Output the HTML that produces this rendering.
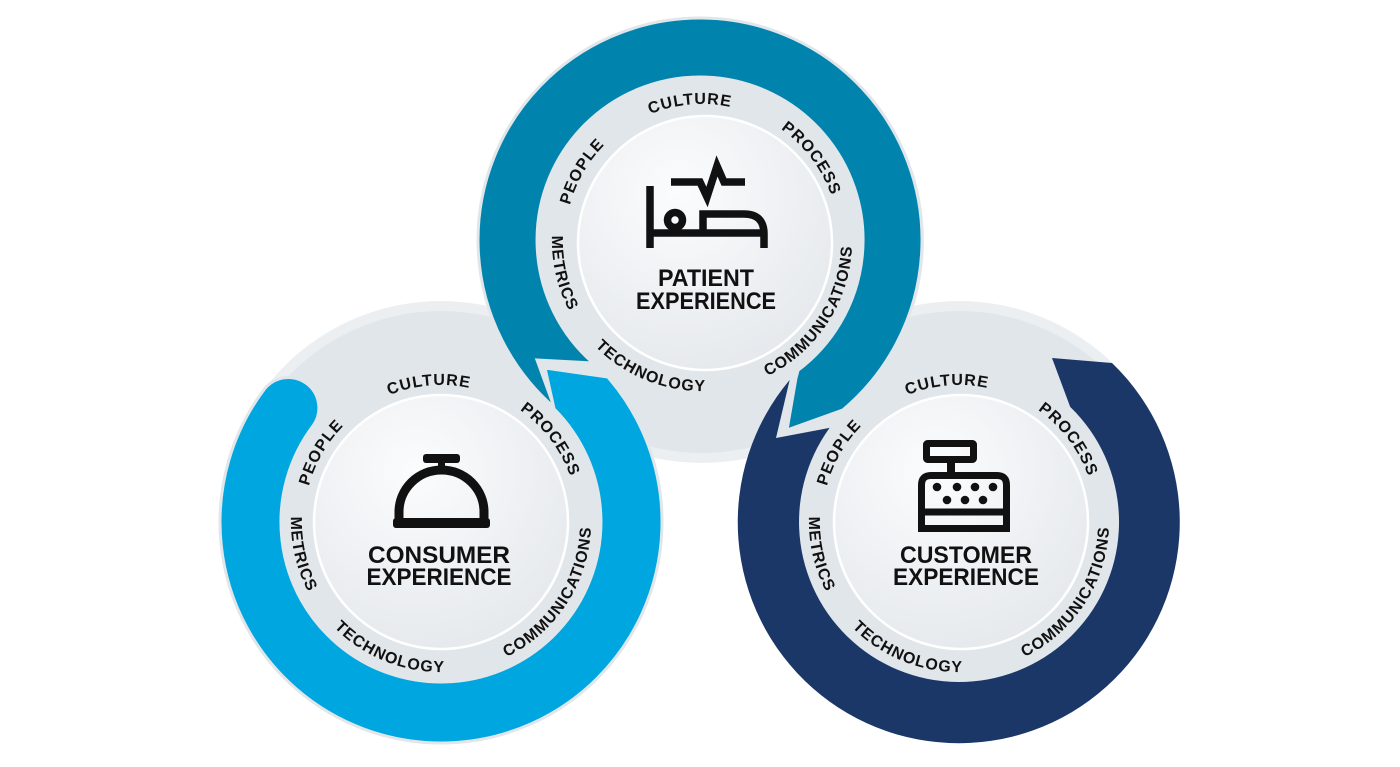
<!DOCTYPE html>
<html><head><meta charset="utf-8"><style>
html,body{margin:0;padding:0;background:#fff;width:1400px;height:767px;overflow:hidden}
svg{display:block}
.lb{font-family:"Liberation Sans",sans-serif;font-weight:bold;font-size:16px;letter-spacing:1px;fill:#111}
.tt{font-family:"Liberation Sans",sans-serif;font-weight:bold;font-size:24px;fill:#111}
</style></head><body>
<svg width="1400" height="767" viewBox="0 0 1400 767" xmlns="http://www.w3.org/2000/svg">
<defs>
<radialGradient id="wg" cx="0.4" cy="0.3" r="0.8">
<stop offset="0" stop-color="#fbfcfd"/><stop offset="1" stop-color="#e3e7eb"/>
</radialGradient>
<path id="pCul" d="M-124.2,-57.9 A137,137 0 0 1 112.2,-78.6"/>
<path id="pPro" d="M-16.7,-136 A137,137 0 0 1 126.1,53.5"/>
<path id="pPeo" d="M-118.6,68.5 A137,137 0 0 1 0,-137"/>
<path id="pCom" d="M-33.7,146.2 A150,150 0 0 0 119.8,-90.3"/>
<path id="pTec" d="M-149.9,-5.2 A150,150 0 0 0 111.5,100.4"/>
<path id="pMet" d="M-81.7,-125.8 A150,150 0 0 0 -18.3,148.9"/>
<g id="labels">
<text class="lb"><textPath href="#pCul" startOffset="50%" text-anchor="middle">CULTURE</textPath></text>
<text class="lb"><textPath href="#pPro" startOffset="50%" text-anchor="middle">PROCESS</textPath></text>
<text class="lb"><textPath href="#pPeo" startOffset="50%" text-anchor="middle">PEOPLE</textPath></text>
<text class="lb"><textPath href="#pCom" startOffset="50%" text-anchor="middle">COMMUNICATIONS</textPath></text>
<text class="lb"><textPath href="#pTec" startOffset="50%" text-anchor="middle">TECHNOLOGY</textPath></text>
<text class="lb"><textPath href="#pMet" startOffset="50%" text-anchor="middle">METRICS</textPath></text>
</g>
</defs>

<g fill="#eceff2">
<circle cx="702" cy="241" r="222"/>
<circle cx="441" cy="522" r="221"/>
<circle cx="959" cy="522" r="221"/>
</g>
<g fill="#e1e6ea">
<circle cx="702" cy="241" r="212"/>
<circle cx="441" cy="522" r="211"/>
<circle cx="959" cy="522" r="211"/>
</g>

<path d="M1112,363 A221,221 0 1 1 789.7,379.9 L776,438 L829.6,427.9 A160,160 0 1 0 1070.2,406.9 L1052,358 Z" fill="#1b3768"/>
<path d="M554.3,407.5 A222,222 0 1 1 842.7,410.1 L787,430 L796,378 L798.1,370.2 A163,163 0 1 0 593.1,363 L537,360 Z" fill="#0084ae" stroke="#e1e6ea" stroke-width="3" stroke-linejoin="miter"/>
<path d="M264.5,389 A221,221 0 1 0 607.8,377 L545,368 L554.1,408.9 A160,160 0 1 1 313.2,425.7 A30.5,30.5 0 0 0 264.5,389 Z" fill="#00a6df" stroke="#e1e6ea" stroke-width="3" stroke-linejoin="miter"/>

<g fill="url(#wg)" stroke="#ffffff" stroke-width="2.5">
<circle cx="705" cy="243" r="127"/>
<circle cx="441" cy="522" r="127"/>
<circle cx="961" cy="522" r="127"/>
</g>

<use href="#labels" transform="translate(702,241)"/>
<use href="#labels" transform="translate(441,522)"/>
<use href="#labels" transform="translate(959,522)"/>

<g fill="none" stroke="#111" stroke-width="7.5" stroke-linecap="butt">
<line x1="650" y1="186" x2="650" y2="248"/>
<circle cx="675" cy="220" r="7.5"/>
<path d="M650,233 H764"/>
<path d="M703,233 V214 H744 Q764,214 764,234 V248"/>
<path d="M671,182 H700 L707,197 L717,166 L724,182 H745" stroke-linejoin="miter"/>
</g>
<text class="tt" x="706" y="286" text-anchor="middle" textLength="96" lengthAdjust="spacingAndGlyphs">PATIENT</text>
<text class="tt" x="706" y="309" text-anchor="middle" textLength="140" lengthAdjust="spacingAndGlyphs">EXPERIENCE</text>

<g fill="#111">
<rect x="423" y="454" width="37" height="9" rx="3"/>
<rect x="438" y="462" width="7" height="10"/>
<rect x="393" y="518" width="97" height="10" rx="3"/>
</g>
<path d="M399,520 V512 A42.5,42 0 0 1 484,512 V520" fill="none" stroke="#111" stroke-width="9"/>
<text class="tt" x="439" y="563" text-anchor="middle" textLength="142" lengthAdjust="spacingAndGlyphs">CONSUMER</text>
<text class="tt" x="439" y="585" text-anchor="middle" textLength="145" lengthAdjust="spacingAndGlyphs">EXPERIENCE</text>

<g fill="none" stroke="#111" stroke-width="7">
<rect x="926.5" y="443.5" width="47" height="16" rx="1"/>
<path d="M921.5,528.5 V485 Q921.5,475.5 931,475.5 H997 Q1006.5,475.5 1006.5,485 V528.5 Z"/>
<line x1="921" y1="512" x2="1007" y2="512"/>
</g>
<rect x="947" y="462" width="8" height="11" fill="#111"/>
<g fill="#111">
<circle cx="937" cy="487" r="4.3"/><circle cx="957" cy="487" r="4.3"/><circle cx="975" cy="487" r="4.3"/><circle cx="993" cy="487" r="4.3"/>
<circle cx="947" cy="500" r="4.3"/><circle cx="965" cy="500" r="4.3"/><circle cx="983" cy="500" r="4.3"/>
</g>
<text class="tt" x="966" y="563" text-anchor="middle" textLength="132" lengthAdjust="spacingAndGlyphs">CUSTOMER</text>
<text class="tt" x="966" y="585" text-anchor="middle" textLength="146" lengthAdjust="spacingAndGlyphs">EXPERIENCE</text>
</svg>
</body></html>
